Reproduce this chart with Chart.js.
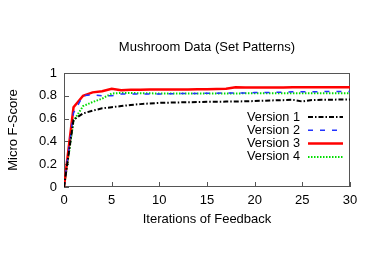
<!DOCTYPE html>
<html>
<head>
<meta charset="utf-8">
<script src="https://cdn.jsdelivr.net/npm/chart.js@4/dist/chart.umd.min.js"></script>
<style>
  html, body { margin: 0; padding: 0; background: #fff; }
  #wrap { width: 374px; height: 262px; }
</style>
</head>
<body>
<div id="wrap"><canvas id="c" width="374" height="262"></canvas></div>
<script>
const titleText = "Mushroom Data (Set Patterns)";
const xTitle = "Iterations of Feedback";
const yTitle = "Micro F-Score";
const iterations = Array.from({length: 31}, (_, i) => i);
const seriesLabels = ["Version 1", "Version 2", "Version 3", "Version 4"];
const version1 = [0, 0.59, 0.645, 0.67, 0.69, 0.70, 0.71, 0.72, 0.727, 0.733, 0.738, 0.74, 0.742, 0.744, 0.745, 0.747, 0.748, 0.749, 0.75, 0.752, 0.754, 0.757, 0.76, 0.762, 0.765, 0.75, 0.763, 0.765, 0.766, 0.767, 0.768];
const version2 = [0, 0.65, 0.80, 0.81, 0.80, 0.80, 0.815, 0.815, 0.815, 0.815, 0.815, 0.818, 0.82, 0.82, 0.82, 0.822, 0.822, 0.825, 0.825, 0.825, 0.828, 0.83, 0.83, 0.832, 0.835, 0.835, 0.835, 0.837, 0.837, 0.838, 0.838];
const version3 = [0, 0.70, 0.80, 0.83, 0.84, 0.862, 0.848, 0.852, 0.852, 0.855, 0.855, 0.855, 0.855, 0.856, 0.857, 0.858, 0.86, 0.862, 0.875, 0.872, 0.872, 0.872, 0.872, 0.873, 0.875, 0.875, 0.875, 0.875, 0.875, 0.876, 0.876];
const version4 = [0, 0.58, 0.71, 0.745, 0.775, 0.82, 0.825, 0.825, 0.822, 0.822, 0.82, 0.82, 0.82, 0.82, 0.82, 0.82, 0.82, 0.82, 0.82, 0.822, 0.822, 0.822, 0.822, 0.822, 0.823, 0.823, 0.823, 0.823, 0.823, 0.823, 0.823];
const xTicks = [0, 5, 10, 15, 20, 25, 30];
const yTicks = [0, 0.2, 0.4, 0.6, 0.8, 1];

const FONT = "'Liberation Sans', Arial, Helvetica, sans-serif";
const styles = [
  {color: '#000000', width: 2, dash: [5, 2, 1.5, 2]},
  {color: '#2233ff', width: 1.5, dash: [5, 7]},
  {color: '#ff0000', width: 2.5, dash: []},
  {color: '#00dd00', width: 2, dash: [1.5, 1.5]}
];
const allSeries = [version1, version2, version3, version4];

const datasets = allSeries.map((vals, i) => ({
  label: seriesLabels[i],
  data: vals.map((v, j) => ({x: iterations[j], y: v})),
  borderColor: styles[i].color,
  borderWidth: styles[i].width,
  borderDash: styles[i].dash,
  pointRadius: 0,
  tension: 0,
  fill: false
}));

const framePlugin = {
  id: 'frame',
  beforeDatasetsDraw(chart) {
    const {ctx, chartArea: a, scales} = chart;
    ctx.save();
    ctx.strokeStyle = '#555';
    ctx.lineWidth = 1;
    ctx.setLineDash([]);
    ctx.strokeRect(a.left + 0.5, a.top + 0.5, a.right - a.left - 1, a.bottom - a.top - 1);
    ctx.beginPath();
    xTicks.forEach(t => {
      const x = Math.round(scales.x.getPixelForValue(t)) + 0.5;
      ctx.moveTo(x, a.bottom); ctx.lineTo(x, a.bottom - 5);
    });
    yTicks.forEach(t => {
      const y = Math.round(scales.y.getPixelForValue(t)) + 0.5;
      ctx.moveTo(a.left, y); ctx.lineTo(a.left + 5, y);
    });
    ctx.stroke();
    ctx.restore();
  },
  afterDatasetsDraw(chart) {
    const {ctx, chartArea: a} = chart;
    ctx.save();
    ctx.font = '12.7px ' + FONT;
    ctx.textAlign = 'right';
    ctx.textBaseline = 'middle';
    const lineEnd = a.right - 7;
    const lineStart = lineEnd - 35;
    const textRight = lineStart - 8;
    chart.data.datasets.forEach((ds, i) => {
      const y = a.top + 44 + i * 13.3;
      ctx.fillStyle = '#000';
      ctx.fillText(ds.label, textRight, y);
      ctx.strokeStyle = ds.borderColor;
      ctx.lineWidth = ds.borderWidth;
      ctx.setLineDash(ds.borderDash);
      ctx.beginPath();
      ctx.moveTo(lineStart, y);
      ctx.lineTo(lineEnd, y);
      ctx.stroke();
    });
    ctx.restore();
  }
};

new Chart(document.getElementById('c'), {
  type: 'line',
  data: {datasets},
  options: {
    responsive: false,
    animation: false,
    devicePixelRatio: 1,
    layout: {padding: {left: 0, right: 24, top: 0, bottom: 0}},
    plugins: {
      legend: {display: false},
      tooltip: {enabled: false},
      title: {
        display: true,
        text: titleText,
        fullSize: false,
        color: '#000',
        font: {family: FONT, size: 13, weight: 'normal'},
        padding: {top: 39.2, bottom: 18.2}
      }
    },
    scales: {
      x: {
        type: 'linear',
        min: 0, max: 30,
        afterBuildTicks: s => { s.ticks = xTicks.map(v => ({value: v})); },
        afterFit: s => { s.height = 75; },
        grid: {display: false, drawTicks: false},
        border: {display: false},
        ticks: {color: '#000', font: {family: FONT, size: 13}, padding: 6, maxRotation: 0},
        title: {display: true, text: xTitle, color: '#000', font: {family: FONT, size: 13}, padding: {top: 4, bottom: 35.2}}
      },
      y: {
        min: 0, max: 1,
        afterBuildTicks: s => { s.ticks = yTicks.map(v => ({value: v})); },
        afterFit: s => { s.width = 64; },
        grid: {display: false, drawTicks: false},
        border: {display: false},
        ticks: {color: '#000', font: {family: FONT, size: 13}, padding: 7, callback: v => String(Math.round(v * 10) / 10)},
        title: {display: true, text: yTitle, color: '#000', font: {family: FONT, size: 13}, padding: {top: 5.2, bottom: 4}}
      }
    }
  },
  plugins: [framePlugin]
});
</script>
</body>
</html>
